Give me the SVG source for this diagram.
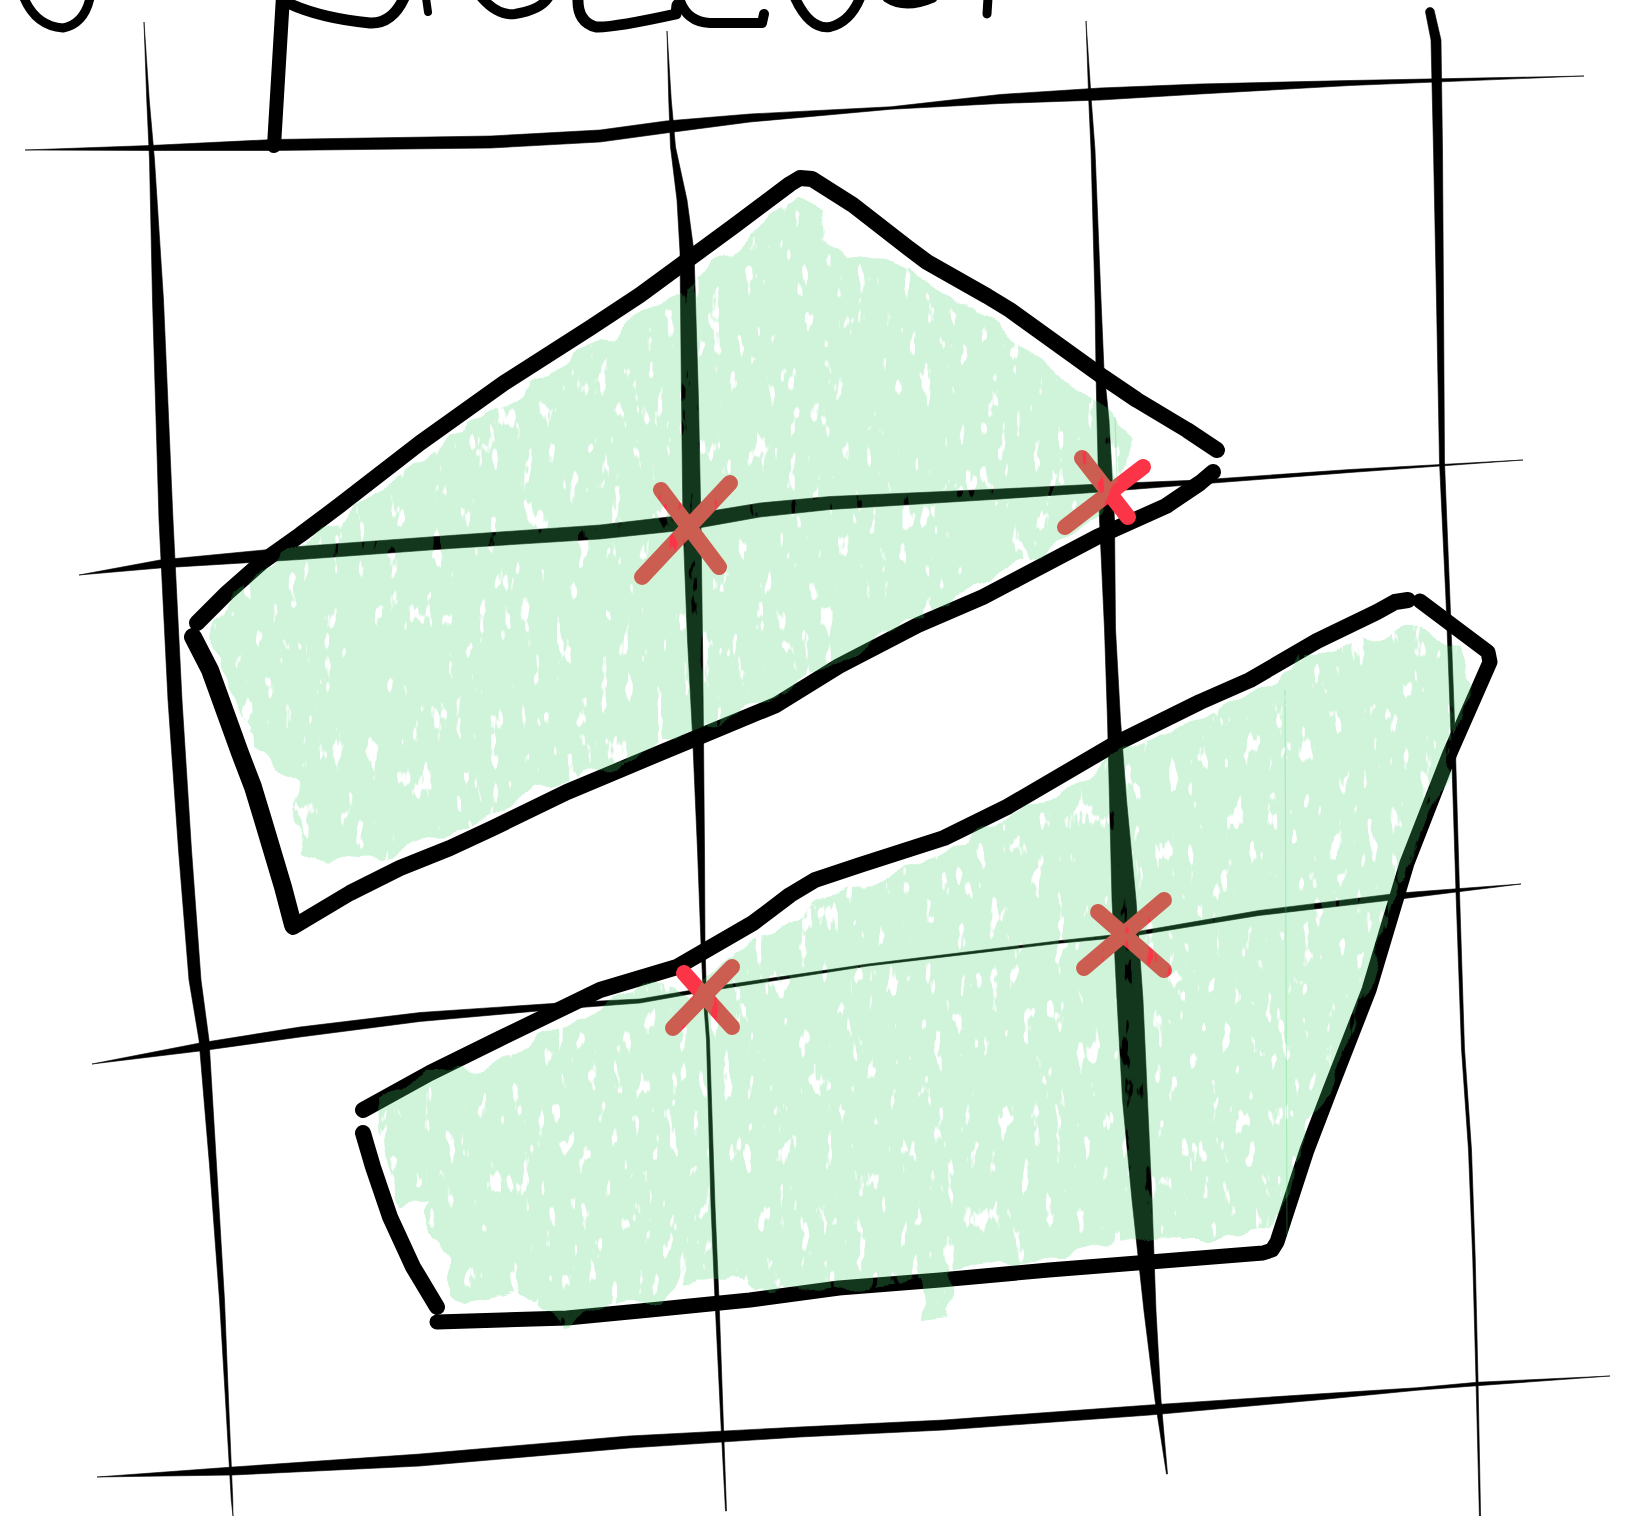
<svg xmlns="http://www.w3.org/2000/svg" width="1645" height="1516" viewBox="0 0 1645 1516">
<style>
.grid{fill:#000;stroke:#000;stroke-width:0.6;stroke-linejoin:round}
.ink{fill:none;stroke:#000;stroke-linecap:round;stroke-linejoin:round}
.mark{fill:none;stroke:#fb3448;stroke-width:16;stroke-linecap:round}
.wash{fill:#45d36c;fill-opacity:0.26}
.faint{fill:none;stroke:#45d36c;stroke-opacity:0.3;stroke-width:1.2}
</style>
<defs>
<filter id="crayon" x="-5%" y="-5%" width="110%" height="110%" color-interpolation-filters="sRGB">
<feTurbulence type="fractalNoise" baseFrequency="0.03" numOctaves="2" seed="7" result="warp"/>
<feDisplacementMap in="SourceGraphic" in2="warp" scale="22" xChannelSelector="R" yChannelSelector="G" result="shape"/>
<feTurbulence type="fractalNoise" baseFrequency="0.09 0.03" numOctaves="3" seed="11" result="grain"/>
<feColorMatrix in="grain" type="matrix" values="0 0 0 0 0  0 0 0 0 0  0 0 0 0 0  0 0 0 -16 11.5" result="mask"/>
<feComposite in="shape" in2="mask" operator="in"/>
</filter>
</defs>
<rect width="1645" height="1516" fill="#fff"/>

<g id="grid">
<path id="v1" class="grid" d="M144,22 L146.75,100 L149.5,160 L152.5,300 L159,520 L168,700 L178.5,850 L189,980 L199,1040 L209.5,1165 L219.5,1300 L225.5,1400 L231.25,1500 L233,1516 L232.75,1500 L228.5,1400 L224.5,1300 L216.5,1165 L209,1040 L201,980 L191.5,850 L182,700 L173,520 L163.5,300 L154.5,160 L149.25,100 Z"/>
<path id="v2" class="grid" d="M667,31 L668.75,100 L670.5,147 L677,200 L680,252 L681.5,400 L683,525 L687.5,640 L692.5,734 L697.5,850 L701,944 L703.5,1000 L706.5,1040 L711,1206 L715,1300 L720.75,1420 L725.5,1511 L726.5,1511 L723.25,1420 L719,1300 L715,1206 L709.5,1040 L706.5,1000 L705,944 L704.5,850 L703.5,734 L702.5,640 L701,525 L698.5,400 L694,252 L687,200 L675.5,147 L671.25,100 Z"/>
<path id="v3" class="grid" d="M1086,21 L1088.75,100 L1091,150 L1095,300 L1096,370 L1097,420 L1099.5,520 L1104.5,629 L1107.5,720 L1109.5,800 L1112,900 L1117,1000 L1122.5,1100 L1132,1200 L1144,1311 L1155,1400 L1166.5,1474 L1167.5,1474 L1161,1400 L1156,1311 L1152,1200 L1147.5,1100 L1143,1000 L1136,900 L1126.5,800 L1120.5,720 L1115.5,629 L1114.5,520 L1109,420 L1104,370 L1101,300 L1095,150 L1091.25,100 Z"/>
<path id="v4" class="grid" d="M1425.5,12 A4.5,4.5 0 0 1 1434.5,12 L1441,40 L1442.5,150 L1443.5,300 L1444.5,462 L1450,600 L1455,734 L1459.75,900 L1464.5,1049 L1471.5,1150 L1475.25,1259 L1478,1380 L1480.6,1516 L1479.4,1516 L1476,1380 L1472.75,1259 L1468.5,1150 L1461.5,1049 L1456.25,900 L1451,734 L1446,600 L1439.5,462 L1436.5,300 L1433.5,150 L1431,40 Z"/>
<path id="h1" class="grid" d="M25,150 L150,145.5 L274,139.5 L491,136 L600,130 L666,121 L750,114 L891,106.75 L1000,94.5 L1100,88 L1200,84 L1350,80.5 L1584,76 L1350,85.5 L1200,94 L1100,100 L1000,103.5 L891,109.25 L750,122 L666,133 L600,142 L491,148 L274,150.5 L150,150.5 Z"/>
<path id="h2" class="grid" d="M79,575 L160,560 L300,546.5 L450,535.5 L600,525 L690,514.5 L760,503 L830,496.5 L1000,489 L1100,484 L1200,480 L1350,469.5 L1523,460 L1350,472.5 L1200,484 L1100,492 L1000,499 L830,509.5 L760,517 L690,529.5 L600,539 L450,548.5 L300,559.5 L160,568 Z"/>
<path id="h3" class="grid" d="M92,1064 L200,1043 L300,1027 L420,1012.5 L560,1003 L640,999 L703,988.25 L868,964 L1059,940.75 L1128,933.25 L1259,910.5 L1400,893 L1521,884 L1400,899 L1259,915.5 L1128,936.75 L1059,943.25 L868,966 L703,991.75 L640,1003 L560,1009 L420,1021.5 L300,1037 L200,1051 Z"/>
<path id="h4" class="grid" d="M97,1477 L233,1467 L420,1454 L629,1436 L800,1427 L944,1420 L1150,1405 L1317,1394 L1417,1387.75 L1477,1382.25 L1610,1376 L1477,1385.75 L1417,1390.25 L1317,1400 L1150,1415 L944,1430 L800,1437 L629,1448 L420,1466 L233,1475 Z"/>
</g>

<g id="title-scribble" class="ink">
<path d="M24,-2 Q36,26 63,28 Q84,24 90,-2" stroke-width="9"/>
<path d="M283,-4 L274,146" stroke-width="14"/>
<path d="M288,3 Q320,18 370,23 Q392,24 404,-2" stroke-width="11"/>
<path d="M426,-2 L428,12" stroke-width="8"/>
<path d="M482,-2 Q498,16 515,14 Q540,10 548,-2" stroke-width="10"/>
<path d="M578,-2 Q577,22 596,27 Q612,28 676,14 L677,5" stroke-width="11"/>
<path d="M679,-2 Q686,22 710,23 L762,23 L764,14" stroke-width="10"/>
<path d="M795,-2 Q810,30 830,27 Q850,22 860,-2" stroke-width="10"/>
<path d="M887,-2 Q905,10 933,-2" stroke-width="9"/>
<path d="M988,-2 L987,14" stroke-width="9"/>
</g>

<g id="shape-upper-outline" class="ink">
<path d="M197,623 L227,593 L262,562 L300,535 L340,505 L420,443 L504,383 L590,328 L640,295 L734,226 L790,184 L800,178 L812,179 L853,205 L907,247 L927,262 L987,296 L1010,310 L1053,341 L1103,377 L1137,400 L1187,430 L1217,450" stroke-width="16"/>
<path d="M1213,472 L1200,483 L1166,506 L1097,537 L1021,577 L983,597 L918,625 L839,666 L776,705 L713,731 L629,766 L567,792 L493,828 L450,848 L400,868 L350,893 L293,927" stroke-width="16"/>
<path d="M193,637 L210,670 L240,753 L253,787 L263,820 L283,887 L293,925" stroke-width="18"/>
</g>

<g id="shape-lower-outline" class="ink">
<path d="M363,1110 L430,1073 L497,1040 L600,990 L677,967 L753,923 L790,895 L815,880 L860,865 L944,838 L1007,807 L1113,745 L1200,702 L1250,680 L1317,641 L1377,612 L1395,602 L1408,600" stroke-width="16"/>
<path d="M1420,601 L1488,652 L1490,662 L1450,753 L1407,863 L1369,990 L1330,1090 L1307,1150 L1277,1242 L1272,1250 L1263,1253 L1150,1262 L1049,1270 L940,1280 L839,1288 L750,1300 L650,1310 L567,1318 L437,1322" stroke-width="15"/>
<path d="M363,1133 L373,1167 L390,1217 L413,1267 L437,1307" stroke-width="16"/>
</g>

<g id="marks">
<g id="x1"><path class="mark" d="M642,577 L730,483"/><path class="mark" d="M661,490 L719,567"/></g>
<g id="x2"><path class="mark" d="M1065,527 L1143,467"/><path class="mark" d="M1082,458 L1128,517"/></g>
<g id="x3"><path class="mark" d="M673,1028 L732,967"/><path class="mark" d="M684,973 L732,1027"/></g>
<g id="x4"><path class="mark" d="M1084,968 L1164,900"/><path class="mark" d="M1098,912 L1164,970"/></g>
</g>

<g id="wash" filter="url(#crayon)">
<path id="wash-upper" class="wash" d="M800,195 L822,210 L825,238 L850,258 L880,255 L905,268 L935,288 L975,308 L1000,326 L1025,342 L1050,368 L1078,394 L1110,410 L1134,440 L1125,468 L1112,495 L1098,520 L1070,540 L1040,553 L1000,575 L960,597 L920,620 L880,637 L840,660 L800,685 L760,705 L720,722 L680,735 L640,755 L600,770 L560,780 L530,785 L515,805 L470,825 L430,840 L400,852 L370,858 L330,862 L305,850 L296,810 L295,780 L265,760 L250,725 L230,690 L213,655 L212,622 L235,595 L262,572 L300,545 L345,514 L400,475 L450,440 L500,406 L550,375 L600,344 L650,312 L700,277 L740,248 L765,220 Z"/>
<path id="wash-lower" class="wash" d="M378,1102 L423,1072 L483,1066 L537,1036 L580,1015 L630,990 L655,978 L672,985 L690,997 L712,975 L735,950 L772,934 L830,897 L887,874 L945,852 L1005,822 L1060,792 L1110,760 L1160,737 L1210,713 L1250,692 L1285,669 L1300,654 L1335,644 L1377,637 L1400,625 L1430,635 L1457,652 L1473,680 L1463,720 L1445,770 L1425,830 L1400,880 L1380,940 L1362,1005 L1340,1060 L1318,1110 L1295,1160 L1287,1200 L1270,1227 L1217,1240 L1183,1240 L1160,1233 L1100,1245 L1049,1259 L1000,1262 L955,1268 L950,1315 L925,1318 L920,1282 L850,1287 L750,1293 L730,1273 L697,1280 L663,1300 L630,1300 L587,1313 L563,1330 L547,1307 L513,1293 L463,1307 L447,1293 L447,1257 L430,1240 L430,1200 L397,1207 L381,1150 Z"/>
</g>
<path class="faint" d="M1285,690 L1287,1235"/>
<path class="faint" d="M1115,417 L1117,483"/>
</svg>
